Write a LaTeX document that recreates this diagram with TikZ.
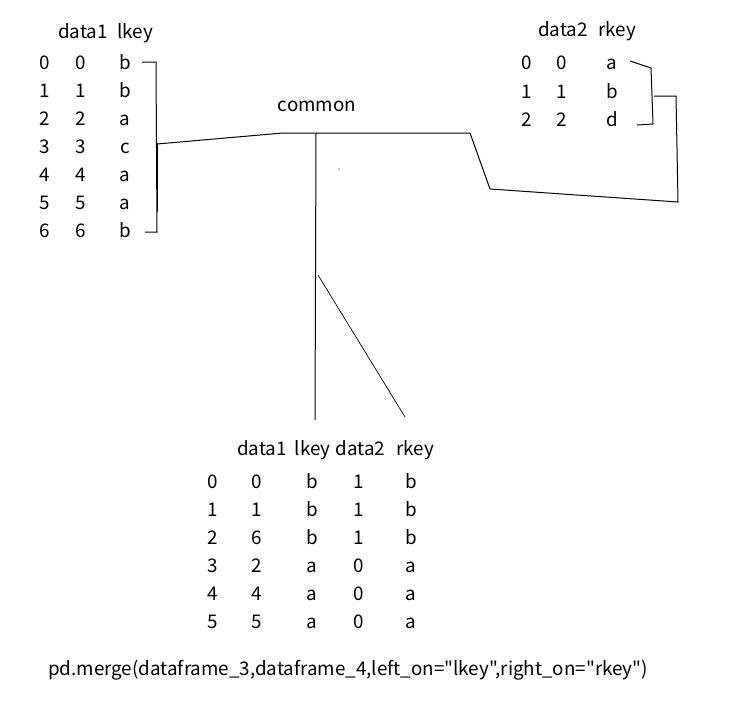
\documentclass[tikz,border=0pt]{standalone}
\usepackage{fontspec}
\newfontfamily\nf{Noto Sans CJK SC}
\begin{document}
\begin{tikzpicture}[x=1pt,y=-1pt,
  txt/.style={inner sep=0pt, anchor=base, font=\nf\fontsize{18.8}{22}\selectfont},
  hdw/.style={txt, anchor=base west},
  hde/.style={txt, anchor=base east},
  ln/.style={line width=1pt, black}]
\useasboundingbox (0,0) rectangle (730,701);
% ---- left table
\node[hdw] (lh1) at (58,39) {data1};
\node[hde] (lh2) at (153,39) {lkey};
\foreach \i/\k [count=\r from 0] in {0/b,1/b,2/a,3/c,4/a,5/a,6/b}{
  \node[txt] (li\r) at (45,{69+28*\r}) {\r};
  \node[txt] (ld\r) at (81,{69+28*\r}) {\i};
  \node[txt] (lk\r) at (125,{69+28*\r}) {\k};
}
% ---- right table
\node[hdw] (rh1) at (538,37) {data2};
\node[hde] (rh2) at (636,37) {rkey};
\foreach \k [count=\r from 0] in {a,b,d}{
  \node[txt] (ri\r) at (527,{70+28*\r}) {\r};
  \node[txt] (rd\r) at (562,{70+28*\r}) {\r};
  \node[txt] (rk\r) at (612,{70+28*\r}) {\k};
}
% ---- common
\node[txt] (common) at (317,111) {common};
% ---- result table
\node[hdw] (bh1) at (237,455) {data1};
\node[txt] (bh2) at (312.5,455) {lkey};
\node[txt] (bh3) at (360.5,455) {data2};
\node[hde] (bh4) at (434,455) {rkey};
\foreach \d/\k/\e/\f [count=\r from 0] in {0/b/1/b,1/b/1/b,6/b/1/b,2/a/0/a,4/a/0/a,5/a/0/a}{
  \node[txt] (bi\r) at (212.5,{488+28*\r}) {\r};
  \node[txt] (bd\r) at (257,{488+28*\r}) {\d};
  \node[txt] (bk\r) at (312,{488+28*\r}) {\k};
  \node[txt] (be\r) at (359,{488+28*\r}) {\e};
  \node[txt] (bf\r) at (411,{488+28*\r}) {\f};
}
% ---- code line
\node[hdw] (code) at (48,675) {pd.merge(dataframe\_3,dataframe\_4,left\_on="lkey",right\_on="rkey")};
% ---- connector points
\coordinate (lb1) at (142,62);
\coordinate (lb2) at (156,62);
\coordinate (lb3) at (157,232);
\coordinate (lb4) at (145,232);
\coordinate (c0) at (157,144);
\coordinate (c1) at (283,133);
\coordinate (c2) at (470,133);
\coordinate (c3) at (490,189);
\coordinate (c4) at (678,202);
\coordinate (c5) at (676,96);
\coordinate (c6) at (654,96);
\coordinate (rb1) at (630,61);
\coordinate (rb2) at (651,68);
\coordinate (rb3) at (653,124);
\coordinate (rb4) at (637,125);
\coordinate (v0) at (316,133);
\coordinate (v1) at (315,420);
\coordinate (d0) at (318,275);
\coordinate (d1) at (405,417);
\coordinate (t0) at (157.8,143);
\coordinate (t1) at (157.8,212);
% ---- lines
\draw[ln] (lb1) -- (lb2) -- (lb3) -- (lb4);
\draw[ln] (t0) -- (t1);
\draw[ln] (c0) -- (c1) -- (c2) -- (c3) -- (c4) -- (c5) -- (c6);
\draw[ln] (rb1) -- (rb2) -- (rb3) -- (rb4);
\draw[ln] (v0) -- (v1);
\draw[line width=0.7pt] (d0) -- (d1);
\fill (339,169) circle (0.6pt);
\end{tikzpicture}
\end{document}
